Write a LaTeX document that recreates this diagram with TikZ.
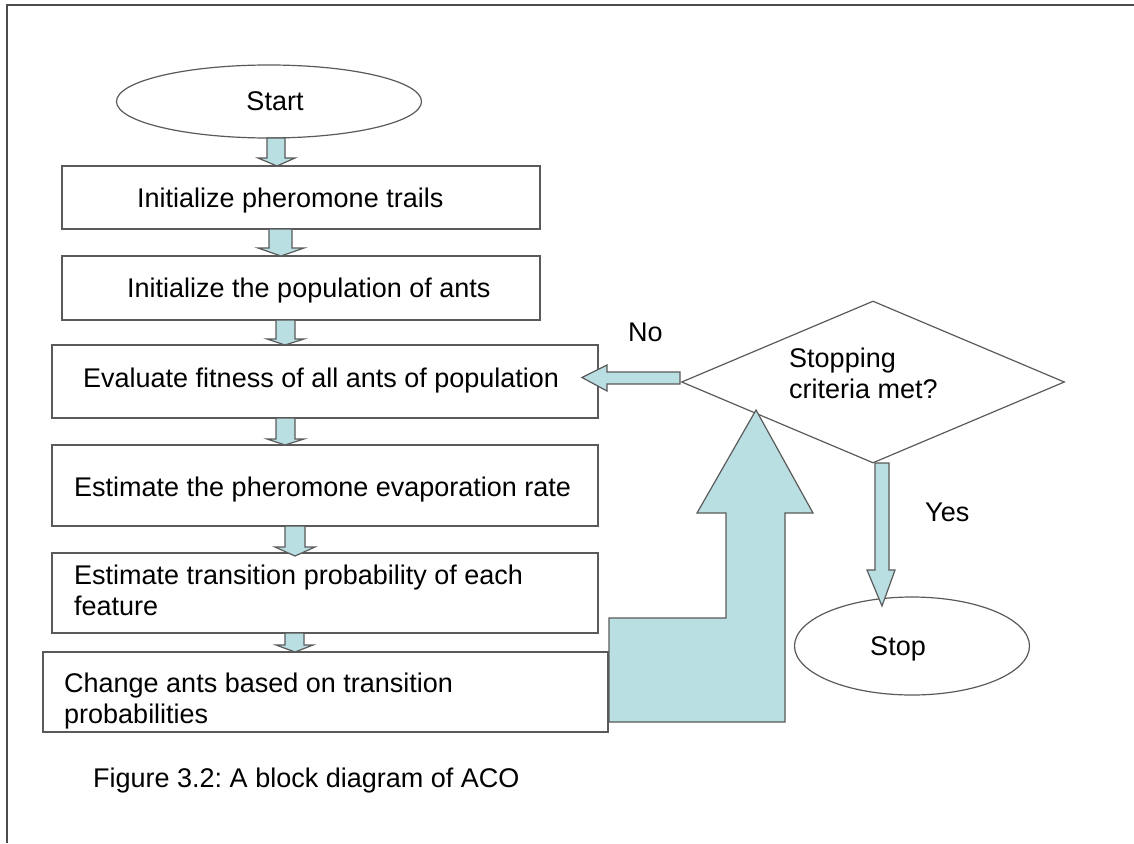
\documentclass[tikz,border=0pt]{standalone}
\usepackage{fontspec}
\setmainfont{Liberation Sans}
\frenchspacing
\usetikzlibrary{shapes.geometric}
\definecolor{arrowfill}{HTML}{BADFE3}
\definecolor{edge}{HTML}{5A5A5A}
\begin{document}
\begin{tikzpicture}[x=1pt,y=-1pt,
  box/.style={draw=edge, line width=1.3pt, fill=white, inner sep=0pt},
  oval/.style={ellipse, draw=edge, line width=1.2pt, fill=white, inner sep=0pt},
  lbl/.style={font=\fontsize{27}{31}\selectfont, inner sep=0pt, align=left},
  blk/.style={draw=edge, line width=1.2pt, fill=arrowfill, line join=miter},
]
\useasboundingbox (0,0) rectangle (1134,843);
% page frame (top and left rules)
\draw[line width=2pt, black!70] (7,843) -- (7,5) -- (1134,5);

% terminals
\node[oval, minimum width=305, minimum height=73] (start) at (269,101.5) {};
\node[oval, minimum width=235, minimum height=98] (stop) at (912,646) {};

% process boxes
\node[box, minimum width=478, minimum height=63] (b1) at (301,197.5) {};
\node[box, minimum width=478, minimum height=64] (b2) at (301,288) {};
\node[box, minimum width=546, minimum height=73] (b3) at (325,381.5) {};
\node[box, minimum width=546, minimum height=81] (b4) at (325,485.5) {};
\node[box, minimum width=546, minimum height=80] (b5) at (325,593) {};
\node[box, minimum width=565, minimum height=80] (b6) at (325.5,692) {};

% decision
\node[diamond, draw=edge, line width=1.2pt, fill=white, inner sep=0pt,
      minimum width=383, minimum height=162] (dec) at (873,382) {};

% labels (multi-line labels are placed by the baseline of their last line)
\node[lbl, anchor=base] (tstart) at (275,110.5) {Start};
\node[lbl, anchor=base west] (t1) at (137,207) {Initialize pheromone trails};
\node[lbl, anchor=base west] (t2) at (127,297) {Initialize the population of ants};
\node[lbl, anchor=base west] (t3) at (83,387) {Evaluate fitness of all ants of population};
\node[lbl, anchor=base west] (t4) at (74,496) {Estimate the pheromone evaporation rate};
\node[lbl, anchor=base west] (t5) at (74,615) {Estimate transition probability of each\\feature};
\node[lbl, anchor=base west] (t6) at (64,723) {Change ants based on transition\\probabilities};
\node[lbl, anchor=base west] (tdec) at (789,398) {Stopping\\criteria met?};
\node[lbl, anchor=base] (tstop) at (898,655) {Stop};
\node[lbl, anchor=base west] (tno) at (628,341) {No};
\node[lbl, anchor=base west] (tyes) at (925,521) {Yes};
\node[lbl, anchor=base west] (cap) at (93,787) {Figure 3.2: A block diagram of ACO};

% block arrows between the steps
\draw[blk] (267,138) -- (285,138) -- (285,158) -- (295,158) -- (277,166) -- (258,158) -- (267,158) -- cycle;
\draw[blk] (269,229) -- (292,229) -- (292,248) -- (304,248) -- (281,256) -- (258,248) -- (269,248) -- cycle;
\draw[blk] (276,320) -- (295,320) -- (295,339) -- (304,339) -- (285,345) -- (267,339) -- (276,339) -- cycle;
\draw[blk] (276,418) -- (295,418) -- (295,439) -- (304,439) -- (285,445) -- (267,439) -- (276,439) -- cycle;
\draw[blk] (285,526) -- (305,526) -- (305,547) -- (315,547) -- (295,556) -- (275,547) -- (285,547) -- cycle;
\draw[blk] (285,633) -- (304,633) -- (304,645) -- (313,645) -- (295,652) -- (276,645) -- (285,645) -- cycle;

% "No" branch back to the evaluation step
\draw[blk] (680,372) -- (607,372) -- (607,365) -- (582,377.5) -- (607,391) -- (607,384) -- (680,384) -- cycle;
% "Yes" branch to the end
\draw[blk] (875,463) -- (889,463) -- (889,570) -- (895,570) -- (882,606) -- (867,570) -- (875,570) -- cycle;
% loop from the last step up to the decision
\draw[blk] (609,722) -- (609,618) -- (726,618) -- (726,513) -- (697,513) -- (756,410)
  -- (813,513) -- (785,513) -- (785,722) -- cycle;
\end{tikzpicture}
\end{document}
